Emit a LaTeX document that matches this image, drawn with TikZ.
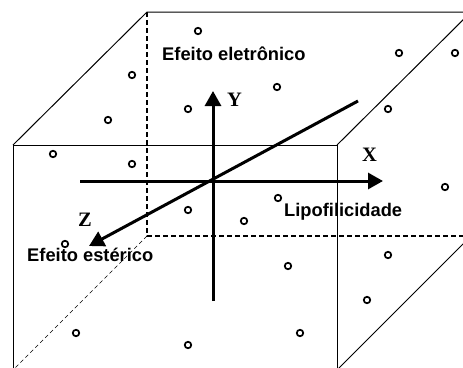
\documentclass[tikz,border=0pt]{standalone}
\usepackage{fontspec}
\setmainfont{Liberation Sans}
\newfontfamily\axfont{Liberation Serif}
\usetikzlibrary{arrows.meta}
\tikzset{
  edge/.style={line width=1pt, black},
  backdash/.style={line width=1.7pt, dash pattern=on 5pt off 3pt},
  thindash/.style={line width=0.6pt, dash pattern=on 4pt off 3pt},
  axis/.style={line width=3pt, -{Triangle[length=15pt,width=16pt]}},
  pt/.style={circle, draw, line width=1.7pt, minimum size=6.5pt, inner sep=0pt},
  lab/.style={font=\bfseries\fontsize{18.3}{18}\selectfont, inner sep=0pt, anchor=base west},
  axlab/.style={font=\axfont\bfseries\fontsize{20.5}{20}\selectfont, inner sep=0pt, anchor=base west}
}
\begin{document}
\begin{tikzpicture}[x=1pt,y=-1pt]
\useasboundingbox (0,0) rectangle (463,367);
\begin{scope}
\clip (0,0) rectangle (463,367);
% cube corners
\coordinate (FTL) at (13,145);
\coordinate (FTR) at (337,145);
\coordinate (FBL) at (13,370);
\coordinate (FBR) at (337,370);
\coordinate (BTL) at (147,12);
\coordinate (BTR) at (471,12);
\coordinate (BBL) at (147,236);
\coordinate (BBR) at (471,236);
% front face
\draw[edge] (FBL) -- (FTL) -- (FTR) -- (FBR);
% top face
\draw[edge] (FTL) -- (BTL) -- (BTR);
\draw[edge] (FTR) -- (BTR);
\draw[edge] (FBR) -- (BBR);
% hidden edges
\draw[backdash] (BTL) -- (BBL) -- (BBR);
\draw[thindash] (BBL) -- (FBL);
\end{scope}
% axes
\coordinate (O) at (213,181);
\coordinate (Ybot) at (213,301);
\coordinate (Ytop) at (213,91);
\coordinate (Xleft) at (80,181);
\coordinate (Xright) at (383,181);
\coordinate (Zfar) at (358,101);
\coordinate (Znear) at (89,246);
\draw[axis] (Ybot) -- (Ytop);
\draw[axis] (Xleft) -- (Xright);
\draw[axis] (Zfar) -- (Znear);
% axis labels
\node[axlab] (ylab) at (227,106) {Y};
\node[axlab] (xlab) at (362,161) {X};
\node[axlab] (zlab) at (78,226) {Z};
% text labels
\node[lab] (ele) at (162,60) {Efeito eletrônico};
\node[lab] (lip) at (284,216) {Lipofilicidade};
\node[lab] (est) at (27,261) {Efeito estérico};
% points
\foreach \px/\py [count=\i] in {198/31, 132/75, 399/53, 455/53, 277/87, 188/109, 108/120, 388/109,
  53/154, 132/164, 445/187, 278/198, 188/210, 244/221, 65/244, 388/255, 288/266, 367/300,
  76/333, 300/333, 188/345}
  \node[pt] (p\i) at (\px,\py) {};
\end{tikzpicture}
\end{document}
